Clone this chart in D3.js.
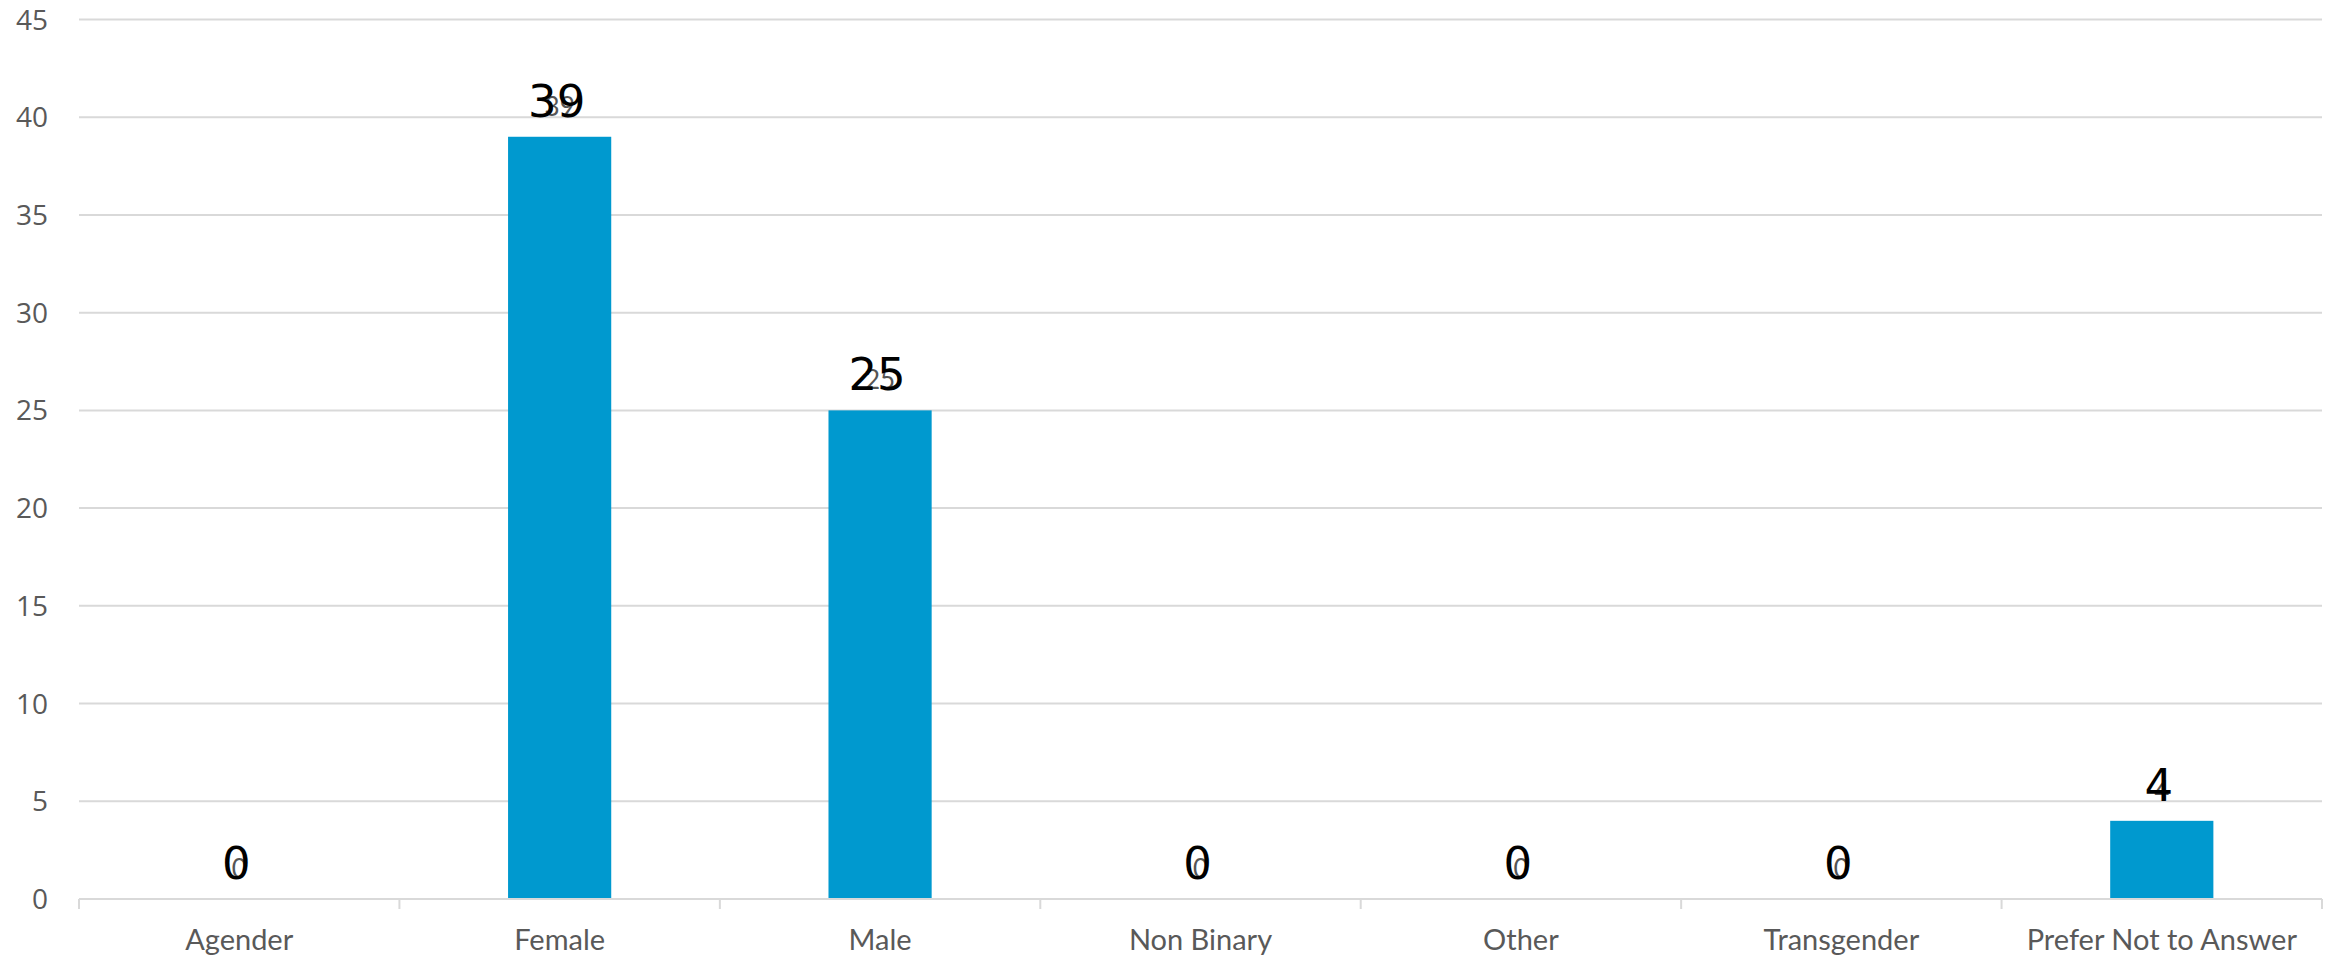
<!DOCTYPE html>
<html>
<head>
<meta charset="utf-8">
<script src="https://cdn.jsdelivr.net/npm/d3@7"></script>
<style>
  html, body { margin: 0; padding: 0; background: #ffffff; }
  svg { display: block; }
</style>
</head>
<body>
<script>
// ---- data ----
const categories = ["Agender", "Female", "Male", "Non Binary", "Other", "Transgender", "Prefer Not to Answer"];
const counts = [0, 39, 25, 0, 0, 0, 4];
const yTicks = [0, 5, 10, 15, 20, 25, 30, 35, 40, 45];

// ---- layout ----
const W = 2339, H = 959;
const margin = { left: 79, right: 17, top: 19.5, bottom: 60 };
const x0 = margin.left, x1 = W - margin.right;
const yBottom = 899;

const svg = d3.select("body").append("svg").attr("width", W).attr("height", H);

const x = d3.scaleBand().domain(categories).range([x0, x1]).padding(0);
const y = d3.scaleLinear().domain([0, 45]).range([yBottom, margin.top]);
const barW = x.bandwidth() * 0.322;

// gridlines
svg.append("g").selectAll("line").data(yTicks.filter(d => d > 0)).join("line")
  .attr("x1", x0).attr("x2", x1)
  .attr("y1", d => y(d)).attr("y2", d => y(d))
  .attr("stroke", "#d9d9d9").attr("stroke-width", 2);

// y labels
svg.append("g").selectAll("text").data(yTicks).join("text")
  .attr("x", 48).attr("y", d => y(d))
  .attr("dy", "0.36em")
  .attr("text-anchor", "end")
  .attr("font-family", "'Open Sans', sans-serif")
  .attr("font-size", 28)
  .attr("fill", "#595959")
  .text(d => d);

// bars
svg.append("g").selectAll("rect").data(categories).join("rect")
  .attr("x", (d) => x(d) + x.bandwidth() / 2 - barW / 2)
  .attr("width", barW)
  .attr("y", (d, i) => y(counts[i]))
  .attr("height", (d, i) => yBottom - y(counts[i]))
  .attr("fill", "#0099cf");

// x axis line + ticks
svg.append("line")
  .attr("x1", x0).attr("x2", x1).attr("y1", yBottom).attr("y2", yBottom)
  .attr("stroke", "#d9d9d9").attr("stroke-width", 2);
const edges = categories.map(d => x(d)).concat([x1]);
svg.append("g").selectAll("line").data(edges).join("line")
  .attr("x1", d => d).attr("x2", d => d)
  .attr("y1", yBottom).attr("y2", yBottom + 10)
  .attr("stroke", "#d9d9d9").attr("stroke-width", 2);

// x labels
svg.append("g").selectAll("text").data(categories).join("text")
  .attr("x", d => x(d) + x.bandwidth() / 2)
  .attr("y", 950)
  .attr("text-anchor", "middle")
  .attr("font-family", "Lato, 'Open Sans', sans-serif")
  .attr("font-size", 29)
  .attr("fill", "#595959")
  .text(d => d);

// small gray value labels
svg.append("g").selectAll("text").data(categories).join("text")
  .attr("x", d => x(d) + x.bandwidth() / 2)
  .attr("y", (d, i) => y(counts[i]) - 21)
  .attr("text-anchor", "middle")
  .attr("font-family", "Lato, sans-serif")
  .attr("font-size", 26)
  .attr("fill", "#555555")
  .text((d, i) => counts[i]);

// big black value labels
svg.append("g").selectAll("text").data(categories).join("text")
  .attr("x", d => x(d) + x.bandwidth() / 2 - 3)
  .attr("y", (d, i) => y(counts[i]) - 20)
  .attr("text-anchor", "middle")
  .attr("font-family", "'DejaVu Sans', sans-serif")
  .attr("font-size", 45)
  .attr("fill", "#000000")
  .text((d, i) => counts[i]);
</script>
</body>
</html>
